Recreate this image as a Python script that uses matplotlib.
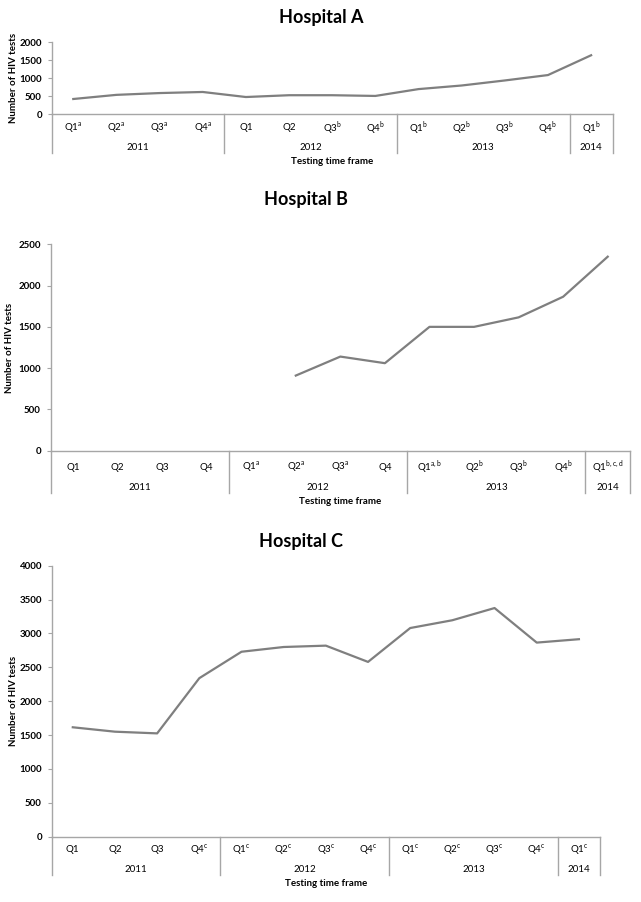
import numpy as np
import matplotlib
matplotlib.use("Agg")
import matplotlib.pyplot as plt

plt.rcParams['font.family'] = ['Lato', 'DejaVu Sans']

W, H = 641, 902

# categories (quarter, superscript note) and values
years = ['2011', '2012', '2013', '2014']
year_spans = [4, 4, 4, 1]
quarters = ['Q1', 'Q2', 'Q3', 'Q4', 'Q1', 'Q2', 'Q3', 'Q4', 'Q1', 'Q2', 'Q3', 'Q4', 'Q1']

notes_a = ['a', 'a', 'a', 'a', '', '', 'b', 'b', 'b', 'b', 'b', 'b', 'b']
notes_b = ['', '', '', '', 'a', 'a', 'a', '', 'a,b', 'b', 'b', 'b', 'b,c,d']
notes_c = ['', '', '', 'c', 'c', 'c', 'c', 'c', 'c', 'c', 'c', 'c', 'c']

tests_a = [425, 540, 590, 620, 480, 530, 530, 510, 700, 800, 940, 1090, 1640]
tests_b = [np.nan, np.nan, np.nan, np.nan, np.nan, 910, 1140, 1060, 1500, 1500, 1615, 1865, 2350]
tests_c = [1615, 1550, 1525, 2340, 2730, 2800, 2820, 2580, 3080, 3195, 3375, 2865, 2915]

line_col = '#7f7f7f'
axis_col = '#a6a6a6'
fs = 7


def panel(rect, title, title_xy, values, notes, ymax, step, q_dy, y_dy, x_dy, depth, ylab_x):
    ax = fig.add_axes(rect)
    x = np.arange(len(values)) + 0.5
    ax.plot(x, values, color=line_col, lw=1.6, solid_joinstyle='round')
    ax.set_xlim(0, len(values))
    ax.set_ylim(0, ymax)
    ax.set_yticks(np.arange(0, ymax + 1, step))
    ax.tick_params(axis='y', length=3, width=0.8, color=axis_col, pad=4,
                   labelsize=fs)
    for lab in ax.get_yticklabels():
        lab.set_fontweight('bold')
    ax.set_xticks([])
    for s in ['top', 'right']:
        ax.spines[s].set_visible(False)
    for s in ['left', 'bottom']:
        ax.spines[s].set_color(axis_col)
        ax.spines[s].set_linewidth(1.0)

    # category dividers below the axis
    hpx = rect[3] * H
    edges = np.concatenate(([0], np.cumsum(year_spans)))
    for e in edges:
        ax.plot([e, e], [0, -depth / hpx], color=axis_col, lw=1.0,
                transform=ax.get_xaxis_transform(), clip_on=False)

    for xi, q, n in zip(x, quarters, notes):
        lab = q if n == '' else q + r'$^{\mathregular{' + n + '}}$'
        ax.annotate(lab, xy=(xi, 0), xycoords=('data', 'axes fraction'),
                    xytext=(0, -q_dy), textcoords='offset pixels',
                    ha='center', va='center', fontsize=fs)
    for i, yr in enumerate(years):
        xc = (edges[i] + edges[i + 1]) / 2
        ax.annotate(yr, xy=(xc, 0), xycoords=('data', 'axes fraction'),
                    xytext=(0, -y_dy), textcoords='offset pixels',
                    ha='center', va='center', fontsize=fs)
    ax.annotate('Testing time frame', xy=(0.5 * len(values), 0),
                xycoords=('data', 'axes fraction'),
                xytext=(0, -x_dy), textcoords='offset pixels',
                ha='center', va='center', fontsize=fs, fontweight='bold')

    fig.text(ylab_x / W, rect[1] + rect[3] / 2, 'Number of HIV tests',
             rotation=90, ha='center', va='center', fontsize=fs,
             fontweight='bold')
    fig.text(title_xy[0] / W, 1 - title_xy[1] / H, title, ha='center',
             va='center', fontsize=13, fontweight='bold')
    return ax


fig = plt.figure(figsize=(W / 100, H / 100), dpi=100)

panel([51.7 / W, 1 - 114.3 / H, 561 / W, 72 / H], 'Hospital A', (321, 18),
      tests_a, notes_a, 2000, 500, 13.7, 33.7, 47.7, 39, 14)
panel([50.7 / W, 1 - 450.7 / H, 579.3 / W, 206.4 / H], 'Hospital B', (306, 200),
      tests_b, notes_b, 2500, 500, 16.3, 36.3, 51, 42, 10)
panel([51.7 / W, 1 - 836.7 / H, 548.3 / W, 271 / H], 'Hospital C', (301, 542),
      tests_c, notes_c, 4000, 500, 13.3, 32.3, 47.3, 38, 14)

fig.savefig('out.png', dpi=100)
